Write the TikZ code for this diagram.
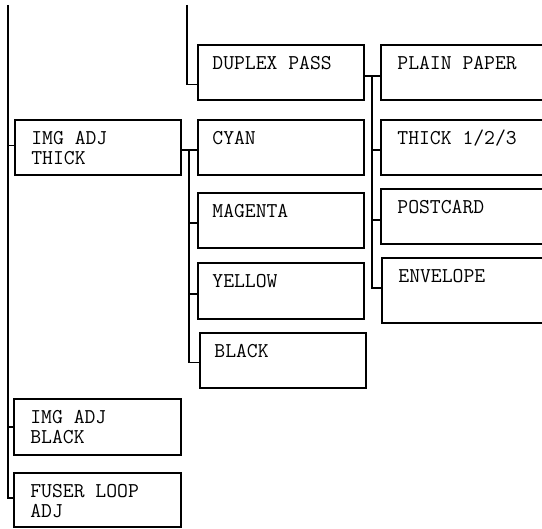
\documentclass[tikz,border=0pt]{standalone}
\usetikzlibrary{fit,calc}
\tikzset{
  box/.style={draw=black, line width=1.3pt, rectangle, inner sep=0pt},
  conn/.style={draw=black, line width=1.3pt},
  txt/.style={anchor=base west, inner sep=0pt,
    font=\ttfamily\fontsize{15.8}{15.5}\selectfont},
}
\newcommand{\twolines}[2]{\vtop{\hbox{#1}\hbox{#2}}}
\begin{document}
\begin{tikzpicture}[x=0.75pt,y=-0.75pt]
\useasboundingbox (0,0) rectangle (542,528);
\clip (0,0) rectangle (542,528);
% boxes
\node[box, fit={(15,120) (181,175)}] (thick) {};
\node[box, fit={(14,399) (181,455)}] (imgblack) {};
\node[box, fit={(14,473) (181,527)}] (fuser) {};
\node[box, fit={(198,45) (364,100)}] (dup) {};
\node[box, fit={(198,120) (364,175)}] (cyan) {};
\node[box, fit={(198,193) (364,248)}] (mag) {};
\node[box, fit={(198,263) (364,319)}] (yel) {};
\node[box, fit={(200,333) (366,388)}] (blk) {};
\node[box, fit={(381,45) (560,100)}] (plain) {};
\node[box, fit={(381,120) (560,175)}] (th3) {};
\node[box, fit={(381,189) (560,244)}] (post) {};
\node[box, fit={(382,258) (560,323)}] (env) {};
% texts
\node[txt] (t1) at ($(thick.north west)+(17,25)$) {\twolines{IMG ADJ}{THICK}};
\node[txt] (t2) at ($(imgblack.north west)+(17,25)$) {\twolines{IMG ADJ}{BLACK}};
\node[txt] (t3) at ($(fuser.north west)+(17,25)$) {\twolines{FUSER LOOP}{ADJ}};
\node[txt] (t4) at ($(dup.north west)+(15,25)$) {DUPLEX PASS};
\node[txt] (t5) at ($(cyan.north west)+(15,25)$) {CYAN};
\node[txt] (t6) at ($(mag.north west)+(15,25)$) {MAGENTA};
\node[txt] (t7) at ($(yel.north west)+(15,25)$) {YELLOW};
\node[txt] (t8) at ($(blk.north west)+(15,25)$) {BLACK};
\node[txt] (t9) at ($(plain.north west)+(17,25)$) {PLAIN PAPER};
\node[txt] (t10) at ($(th3.north west)+(17,25)$) {THICK 1/2/3};
\node[txt] (t11) at ($(post.north west)+(17,25)$) {POSTCARD};
\node[txt] (t12) at ($(env.north west)+(17,25)$) {ENVELOPE};
% connectors
\coordinate (trunk) at (8,5);
\coordinate (dtop) at (187,5);
\coordinate (cv) at (189,150);
\coordinate (rv) at (372,76);
\draw[conn] (trunk) |- ($(fuser.west)+(0,-2)$);
\draw[conn] ($(trunk |- thick.west)+(0,-2)$) -- ($(thick.west)+(0,-2)$);
\draw[conn] (trunk |- imgblack.west) -- (imgblack.west);
\draw[conn] (dtop) |- ($(dup.west)+(0,12)$);
\draw[conn] ($(thick.east)+(0,2.5)$) -- ($(cyan.west)+(0,2.5)$);
\draw[conn] (cv) |- ($(blk.west)+(0,2)$);
\draw[conn] ($(cv |- mag.west)+(0,2.5)$) -- ($(mag.west)+(0,2.5)$);
\draw[conn] ($(cv |- yel.west)+(0,3)$) -- ($(yel.west)+(0,3)$);
\draw[conn] ($(dup.east)+(0,3.5)$) -- ($(plain.west)+(0,3.5)$);
\draw[conn] (rv) |- ($(env.west)+(0,-2.5)$);
\draw[conn] ($(rv |- th3.west)+(0,2.5)$) -- ($(th3.west)+(0,2.5)$);
\draw[conn] ($(rv |- post.west)+(0,3.5)$) -- ($(post.west)+(0,3.5)$);
\end{tikzpicture}
\end{document}
